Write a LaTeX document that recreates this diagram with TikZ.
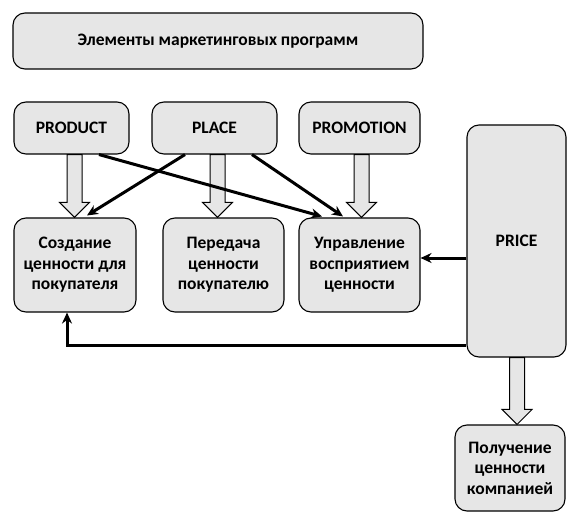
\documentclass[tikz,border=0pt]{standalone}
\usepackage{fontspec}
\setmainfont{Carlito}
\usetikzlibrary{arrows.meta,calc}
\definecolor{boxgray}{HTML}{E6E6E6}

\begin{document}
\begin{tikzpicture}[x=1bp,y=-1bp,
  box/.style={draw, fill=boxgray, rounded corners=12bp, line width=1.1bp, align=center,
    font=\bfseries\fontsize{17.5bp}{20.5bp}\selectfont, inner sep=0pt},
  link/.style={-{Stealth[length=11bp,width=10bp]}, line width=3bp},
  fat/.style={draw, fill=boxgray, line width=1bp, line join=miter}]
  \useasboundingbox (0,0) rectangle (583,519);
  % верхний блок
  \node[box, minimum width=410bp, minimum height=56bp] (prog) at (218,41) {Элементы маркетинговых программ};
  % 4P
  \node[box, minimum width=115bp, minimum height=52bp] (product) at (71.5,128) {PRODUCT};
  \node[box, minimum width=125bp, minimum height=52bp] (place) at (214.5,128) {PLACE};
  \node[box, minimum width=121bp, minimum height=52bp] (promotion) at (359.5,128) {PROMOTION};
  \node[box, minimum width=99bp, minimum height=232bp] (price) at (516.5,241) {PRICE};
  % ценность
  \node[box, minimum width=122bp, minimum height=94bp] (create) at (75,265) {Создание\\ценности для\\покупателя};
  \node[box, minimum width=121bp, minimum height=94bp] (deliver) at (223.5,265) {Передача\\ценности\\покупателю};
  \node[box, minimum width=121bp, minimum height=94bp] (manage) at (359.5,265) {Управление\\восприятием\\ценности};
  \node[box, minimum width=110bp, minimum height=86bp] (capture) at (510,468) {Получение\\ценности\\компанией};
  % широкие стрелки
  \foreach \s/\t/\xx in {product/create/74.5, place/deliver/217.5, promotion/manage/361.5, price/capture/517}
    \path[fat] let \p1=(\s.south), \p2=(\t.north), \p3=(\xx,0) in
      ({\x3-7.5bp},\y1) -- ({\x3-7.5bp},{\y2+15bp}) -- ({\x3-15bp},{\y2+15bp}) -- (\x3,\y2)
      -- ({\x3+15bp},{\y2+15bp}) -- ({\x3+7.5bp},{\y2+15bp}) -- ({\x3+7.5bp},\y1) -- cycle;
  % связи
  \draw[link] ([xshift=-29.5bp]place.south) -- ([xshift=12bp,yshift=2bp]create.north);
  \draw[link] ([xshift=27.5bp]product.south) -- ([xshift=-37.5bp,yshift=1bp]manage.north);
  \draw[link] ([xshift=37.5bp]place.south) -- ([xshift=-16.5bp,yshift=1bp]manage.north);
  \coordinate (p1) at ([yshift=-17bp]price.west);
  \draw[link] (p1) -- (p1 -| manage.east);
  \draw[link] ([yshift=-104bp]price.west) -| ([xshift=-8bp]create.south);
\end{tikzpicture}
\end{document}
